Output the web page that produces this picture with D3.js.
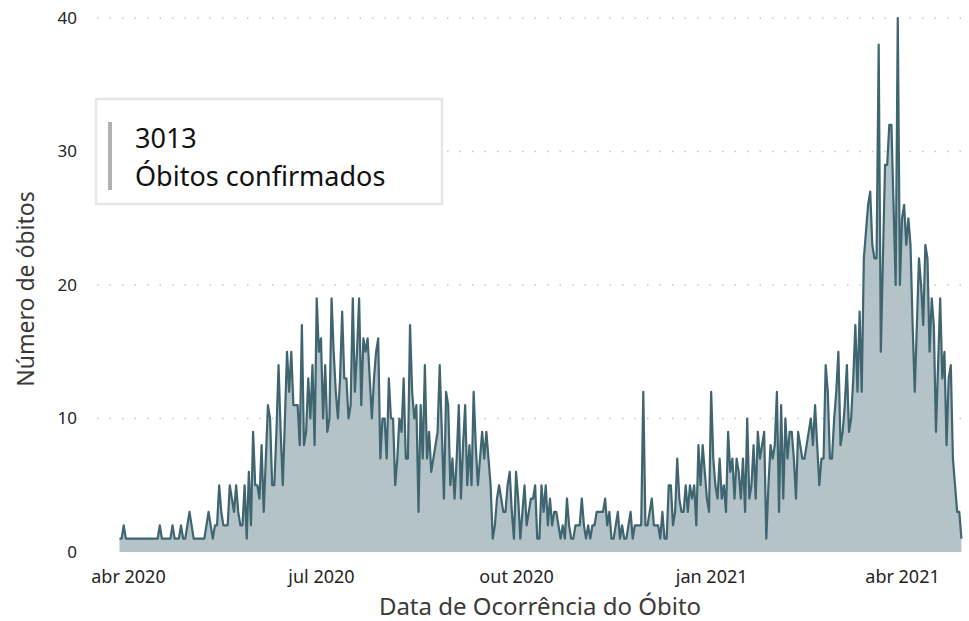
<!DOCTYPE html>
<html lang="pt">
<head>
<meta charset="UTF-8">
<title>Óbitos confirmados</title>
<script src="https://d3js.org/d3.v7.min.js"></script>
<style>
  body { margin: 0; background: #fff; }
  text { font-family: "Noto Sans", sans-serif; }
</style>
</head>
<body>
<div id="chart"></div>
<script>
// daily deaths, first day = 28 Mar 2020
const startDate = new Date(2020, 2, 28);
const deaths = [
  1,1,2,1,1,1,1,1,1,1,
  1,1,1,1,1,1,1,1,1,2,
  1,1,1,1,1,2,1,1,1,2,
  1,1,2,3,2,1,1,1,1,1,
  1,2,3,2,1,2,2,5,3,2,
  2,2,5,4,3,5,3,2,2,5,
  1,6,2,9,5,5,4,8,3,7,
  11,10,5,5,9,14,9,5,10,15,
  12,15,11,11,11,8,17,8,9,13,
  10,14,8,19,15,16,10,14,9,10,
  19,15,12,10,13,18,13,13,10,11,
  19,12,15,19,11,16,15,16,13,10,
  13,15,16,7,10,10,7,13,10,10,
  5,7,10,9,13,7,7,17,12,10,
  11,3,11,7,14,7,9,6,7,8,
  9,14,9,4,12,11,5,7,4,7,
  11,4,8,11,5,8,5,12,8,5,
  7,9,7,9,7,5,1,2,4,5,
  4,3,3,5,6,3,1,6,4,1,
  3,5,2,3,4,4,5,1,1,5,
  3,5,2,4,2,3,3,2,1,2,
  1,4,2,1,1,2,2,2,4,2,
  1,2,1,2,2,3,3,3,3,4,
  2,3,1,1,2,3,1,2,1,1,
  2,3,1,2,2,2,2,12,2,2,
  3,4,2,2,2,1,3,1,1,5,
  5,2,3,7,4,3,3,5,3,5,
  4,5,2,8,5,8,6,4,3,12,
  7,5,4,7,4,5,3,9,6,7,
  4,7,6,4,7,3,10,4,5,8,
  4,9,7,8,9,1,5,8,7,8,
  12,3,11,4,10,7,9,9,7,4,
  9,8,7,7,8,9,10,8,11,8,
  5,7,7,14,12,7,7,10,12,15,
  8,9,11,14,9,10,13,17,12,18,
  12,22,24,26,27,23,22,22,38,15,
  22,29,29,32,32,26,20,40,20,25,
  26,23,25,23,17,12,17,22,20,17,
  23,22,15,19,17,9,14,19,13,15,
  8,13,14,7,5,3,3,1
];
const tickDates = [new Date(2020, 3, 1), new Date(2020, 6, 1), new Date(2020, 9, 1), new Date(2021, 0, 1), new Date(2021, 3, 1)];
const tickLabels = ["abr 2020", "jul 2020", "out 2020", "jan 2021", "abr 2021"];
const yTicks = [0, 10, 20, 30, 40];
const cardValue = "3013";
const cardLabel = "Óbitos confirmados";

const data = deaths.map((v, i) => ({ date: d3.timeDay.offset(startDate, i), value: v }));

const width = 969, height = 621;
const svg = d3.select("#chart").append("svg")
    .attr("width", width)
    .attr("height", height);

const x = d3.scaleTime()
    .domain([startDate, data[data.length - 1].date])
    .range([119.5, 961.4]);

const y = d3.scaleLinear()
    .domain([0, 40])
    .range([552, 18]);

// dotted gridlines
svg.append("g")
  .selectAll("line")
  .data(yTicks.slice(1))
  .join("line")
    .attr("x1", 97)
    .attr("x2", 962)
    .attr("y1", d => y(d))
    .attr("y2", d => y(d))
    .attr("stroke", "#c8c6c4")
    .attr("stroke-width", 1.5)
    .attr("stroke-dasharray", "1.5,11");

// area + line
svg.append("path")
    .datum(data)
    .attr("fill", "#b4c3c8")
    .attr("d", d3.area().x(d => x(d.date)).y0(y(0)).y1(d => y(d.value)));

svg.append("path")
    .datum(data)
    .attr("fill", "none")
    .attr("stroke", "#3f6570")
    .attr("stroke-width", 2.2)
    .attr("stroke-linejoin", "round")
    .attr("d", d3.line().x(d => x(d.date)).y(d => y(d.value)));

// y axis
const yAxis = svg.append("g")
    .attr("transform", "translate(77,0)")
    .call(d3.axisLeft(y).tickValues(yTicks).tickSize(0).tickPadding(0));
yAxis.select(".domain").remove();
yAxis.selectAll("text")
    .style("font-size", "17px")
    .attr("fill", "#252423");

// x axis
const xAxis = svg.append("g")
    .attr("transform", "translate(0,562)")
    .call(d3.axisBottom(x).tickValues(tickDates).tickSize(0).tickPadding(8)
        .tickFormat((d, i) => tickLabels[i]));
xAxis.select(".domain").remove();
xAxis.selectAll("text")
    .style("font-size", "18px")
    .attr("fill", "#252423");

// axis titles
svg.append("text")
    .attr("x", 540)
    .attr("y", 615)
    .attr("text-anchor", "middle")
    .style("font-size", "24px")
    .attr("fill", "#3b3a39")
    .text("Data de Ocorrência do Óbito");

svg.append("text")
    .attr("transform", "translate(34,289) rotate(-90)")
    .attr("text-anchor", "middle")
    .style("font-size", "23px")
    .attr("fill", "#3b3a39")
    .text("Número de óbitos");

// card
const card = svg.append("g");
card.append("rect")
    .attr("x", 96).attr("y", 99)
    .attr("width", 346).attr("height", 105)
    .attr("fill", "#fff")
    .attr("stroke", "#e6e6e6")
    .attr("stroke-width", 2.5);
card.append("rect")
    .attr("x", 108).attr("y", 122)
    .attr("width", 4).attr("height", 68)
    .attr("fill", "#b3b0ad");
card.append("text")
    .attr("x", 135).attr("y", 148)
    .style("font-size", "27px")
    .attr("fill", "#111")
    .text(cardValue);
card.append("text")
    .attr("x", 135).attr("y", 186)
    .style("font-size", "27px")
    .attr("fill", "#111")
    .text(cardLabel);
</script>
</body>
</html>
